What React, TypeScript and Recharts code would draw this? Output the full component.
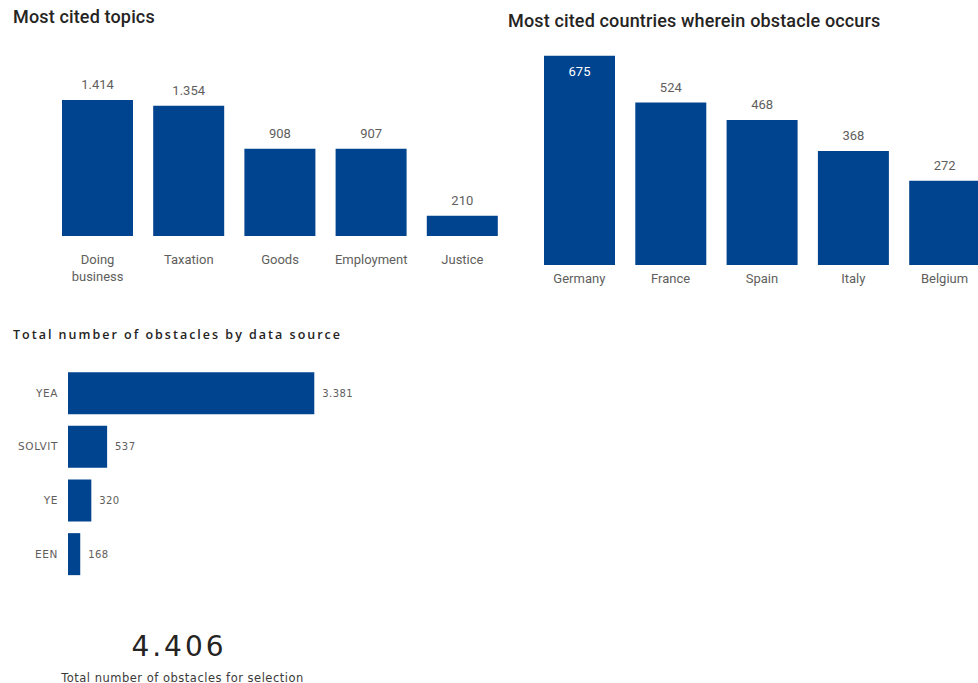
import { Bar, BarChart, LabelList, Text, XAxis, YAxis } from "recharts";

const topicNames = ["Doing business", "Taxation", "Goods", "Employment", "Justice"];
const topicCounts = [1414, 1354, 908, 907, 210];

const countryNames = ["Germany", "France", "Spain", "Italy", "Belgium"];
const countryCounts = [675, 524, 468, 368, 272];

const sourceNames = ["YEA", "SOLVIT", "YE", "EEN"];
const sourceCounts = [3381, 537, 320, 168];

const totalObstacles = 4406;

const blue = "#00438F";
const grey = "#605E5C";
const ink = "#252423";
const din = "Roboto, sans-serif";
const segoe = "'DejaVu Sans', sans-serif";

const topics = topicNames.map((name, i) => ({ name, count: topicCounts[i] }));
const countries = countryNames.map((name, i) => ({ name, count: countryCounts[i] }));
const sources = sourceNames.map((name, i) => ({ name, count: sourceCounts[i] }));

// power bi style thousands separator
const fmt = (v: number | string) => String(v).replace(/\B(?=(\d{3})+(?!\d))/g, ".");

function ColumnLabel(props: any) {
  const vb = props.viewBox || props;
  const x = vb.x ?? props.x;
  const y = vb.y ?? props.y;
  const width = vb.width ?? props.width;
  // no room above the tallest column -> label goes inside
  const inside = y < 70;
  return (
    <text
      x={x + width / 2}
      y={inside ? y + 20.3 : y - 10.7}
      textAnchor="middle"
      fill={inside ? "#ffffff" : grey}
      fontSize={13}
      fontFamily={din}
    >
      {fmt(props.value)}
    </text>
  );
}

function ColumnTick({ x, y, payload }: any) {
  return (
    <Text
      x={x}
      y={y}
      width={80}
      textAnchor="middle"
      verticalAnchor="start"
      lineHeight={17}
      fontSize={13}
      fontFamily={din}
      fill={grey}
    >
      {payload.value}
    </Text>
  );
}

function SourceLabel(props: any) {
  const vb = props.viewBox || props;
  const x = vb.x ?? props.x;
  const y = vb.y ?? props.y;
  const width = vb.width ?? props.width;
  const height = vb.height ?? props.height;
  return (
    <text
      x={x + width + 8}
      y={y + height / 2 + 3.6}
      fill={grey}
      fontSize={10}
      fontFamily={segoe}
      letterSpacing={0.4}
    >
      {fmt(props.value)}
    </text>
  );
}

export default function App() {
  return (
    <div
      style={{
        position: "absolute",
        left: 0,
        top: 0,
        width: 978,
        height: 683,
        overflow: "hidden",
        background: "#ffffff"
      }}
    >
      <svg width={978} height={683} style={{ position: "absolute", left: 0, top: 0 }}>
        <text x={13} y={23.3} fontSize={18} fontWeight={500} fontFamily={din} letterSpacing={0.15} fill={ink}>
          Most cited topics
        </text>
        <text x={508} y={27.3} fontSize={18} fontWeight={500} fontFamily={din} letterSpacing={0.15} fill={ink}>
          Most cited countries wherein obstacle occurs
        </text>
        <text
          x={13}
          y={339}
          fontSize={12.5}
          fontWeight={600}
          fontFamily="'Open Sans', sans-serif"
          letterSpacing={2}
          fill={ink}
        >
          Total number of obstacles by data source
        </text>
        <text
          x={179}
          y={655.7}
          textAnchor="middle"
          fontSize={28}
          fontFamily={segoe}
          letterSpacing={3}
          fill={ink}
        >
          {fmt(totalObstacles)}
        </text>
        <text
          x={182.5}
          y={681.5}
          textAnchor="middle"
          fontSize={11.5}
          fontFamily={segoe}
          letterSpacing={0.5}
          fill="#3b3a39"
        >
          Total number of obstacles for selection
        </text>
      </svg>

      <div style={{ position: "absolute", left: 0, top: 0 }}>
        <BarChart
          width={520}
          height={300}
          data={topics}
          margin={{ top: 100, right: 12, bottom: 0, left: 52 }}
          barCategoryGap={10}
        >
          <XAxis
            dataKey="name"
            height={64}
            axisLine={false}
            tickLine={false}
            tickSize={0}
            tickMargin={19}
            interval={0}
            tick={<ColumnTick />}
          />
          <YAxis hide domain={[0, "dataMax"]} />
          <Bar dataKey="count" fill={blue} isAnimationActive={false}>
            <LabelList dataKey="count" content={<ColumnLabel />} />
          </Bar>
        </BarChart>
      </div>

      <div style={{ position: "absolute", left: 500, top: 0 }}>
        <BarChart
          width={500}
          height={300}
          data={countries}
          margin={{ top: 55.7, right: 9.8, bottom: 0, left: 33.7 }}
          barCategoryGap={10.3}
        >
          <XAxis
            dataKey="name"
            height={35}
            axisLine={false}
            tickLine={false}
            tickSize={0}
            tickMargin={8.5}
            interval={0}
            tick={<ColumnTick />}
          />
          <YAxis hide domain={[0, "dataMax"]} />
          <Bar dataKey="count" fill={blue} isAnimationActive={false}>
            <LabelList dataKey="count" content={<ColumnLabel />} />
          </Bar>
        </BarChart>
      </div>

      <div style={{ position: "absolute", left: 0, top: 340 }}>
        <BarChart
          width={380}
          height={260}
          data={sources}
          layout="vertical"
          margin={{ top: 26.2, right: 65.7, bottom: 19.2, left: 8 }}
          barCategoryGap={6}
        >
          <XAxis type="number" hide domain={[0, "dataMax"]} />
          <YAxis
            type="category"
            dataKey="name"
            width={60}
            axisLine={false}
            tickLine={false}
            tickSize={0}
            tickMargin={10}
            interval={0}
            tick={{ fill: grey, fontSize: 10.5, fontFamily: segoe, letterSpacing: 0.6 }}
          />
          <Bar dataKey="count" fill={blue} isAnimationActive={false}>
            <LabelList dataKey="count" content={<SourceLabel />} />
          </Bar>
        </BarChart>
      </div>
    </div>
  );
}
